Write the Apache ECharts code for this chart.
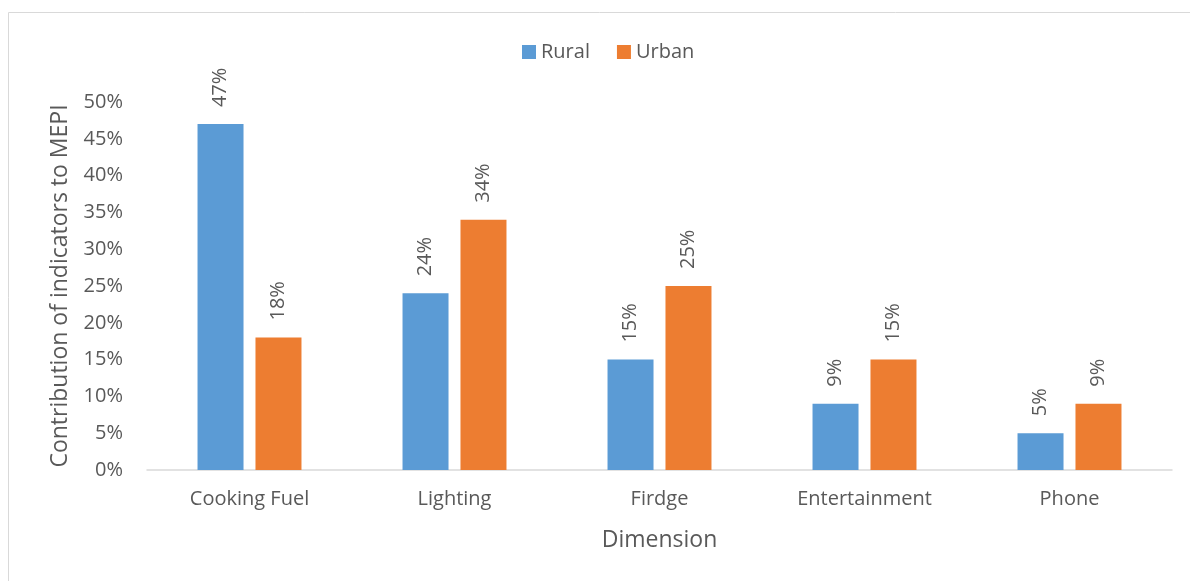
<!DOCTYPE html>
<html>
<head>
<meta charset="utf-8">
<script src="https://cdn.jsdelivr.net/npm/echarts@6/dist/echarts.min.js"></script>
<style>
  html, body { margin: 0; padding: 0; background: #fff; }
  #chart { width: 1190px; height: 581px; }
</style>
</head>
<body>
<div id="chart"></div>
<script>
// Share of each indicator in the MEPI, by area type
const categories = ['Cooking Fuel', 'Lighting', 'Firdge', 'Entertainment', 'Phone'];
const ruralValues = [47, 24, 15, 9, 5];
const urbanValues = [18, 34, 25, 15, 9];
const seriesNames = ['Rural', 'Urban'];
const yTicks = { min: 0, max: 50, interval: 5 };

const FONT = 'Open Sans';
const TEXT = '#595959';

const chart = echarts.init(document.getElementById('chart'));

const valueLabel = {
  show: true,
  position: 'top',
  rotate: 90,
  align: 'left',
  verticalAlign: 'middle',
  distance: 17,
  formatter: p => p.value + '%',
  color: TEXT,
  fontFamily: FONT,
  fontSize: 20
};

chart.setOption({
  animation: false,
  graphic: [{
    type: 'rect',
    shape: { x: 8.5, y: 12.5, width: 1200, height: 600 },
    style: { fill: 'none', stroke: '#d9d9d9', lineWidth: 1 },
    silent: true
  }],
  legend: {
    data: seriesNames,
    top: 37,
    left: 517,
    itemWidth: 14,
    itemHeight: 14,
    itemGap: 27,
    icon: 'rect',
    textStyle: { color: TEXT, fontFamily: FONT, fontSize: 20 }
  },
  grid: { left: 147, right: 18, top: 102, bottom: 111 },
  xAxis: {
    type: 'category',
    data: categories,
    name: 'Dimension',
    nameLocation: 'middle',
    nameGap: 59,
    nameTextStyle: { color: TEXT, fontFamily: FONT, fontSize: 23 },
    axisLine: { lineStyle: { color: '#d9d9d9', width: 1.5 } },
    axisTick: { show: false },
    axisLabel: { color: TEXT, fontFamily: FONT, fontSize: 20, margin: 19 }
  },
  yAxis: {
    type: 'value',
    min: yTicks.min,
    max: yTicks.max,
    interval: yTicks.interval,
    name: 'Contribution of indicators to MEPI',
    nameLocation: 'middle',
    nameGap: 75,
    nameTextStyle: { color: TEXT, fontFamily: FONT, fontSize: 23 },
    axisLine: { show: false },
    axisTick: { show: false },
    splitLine: { show: false },
    axisLabel: { color: TEXT, fontFamily: FONT, fontSize: 20, margin: 24, formatter: '{value}%' }
  },
  series: [
    {
      name: seriesNames[0],
      type: 'bar',
      data: ruralValues,
      barWidth: 46,
      barGap: '26%',
      itemStyle: { color: '#5b9bd5' },
      label: valueLabel
    },
    {
      name: seriesNames[1],
      type: 'bar',
      data: urbanValues,
      barWidth: 46,
      barGap: '26%',
      itemStyle: { color: '#ed7d31' },
      label: valueLabel
    }
  ]
});
</script>
</body>
</html>
